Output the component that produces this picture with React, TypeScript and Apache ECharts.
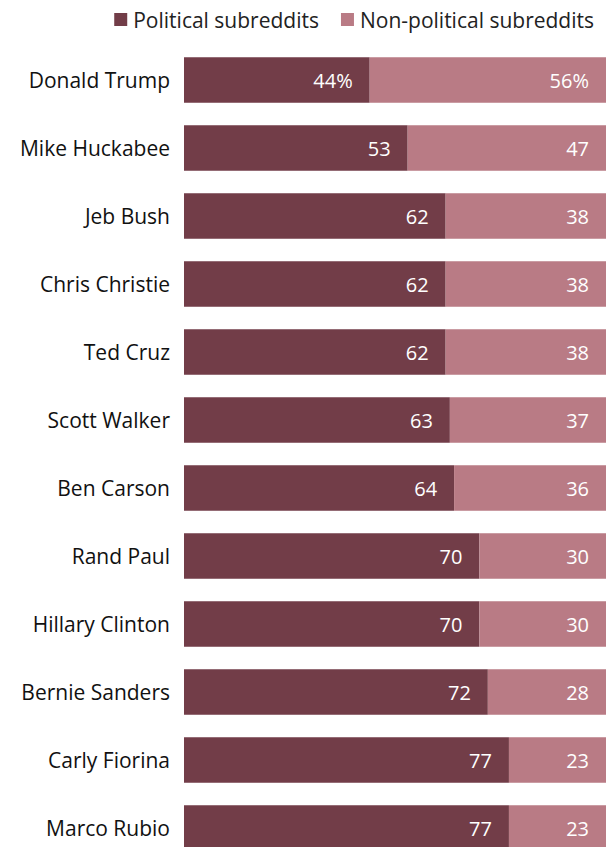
import React, { useEffect, useRef } from "react";
import * as echarts from "echarts";

const categories = [
  "Donald Trump",
  "Mike Huckabee",
  "Jeb Bush",
  "Chris Christie",
  "Ted Cruz",
  "Scott Walker",
  "Ben Carson",
  "Rand Paul",
  "Hillary Clinton",
  "Bernie Sanders",
  "Carly Fiorina",
  "Marco Rubio",
];
const political = [44, 53, 62, 62, 62, 63, 64, 70, 70, 72, 77, 77];
const nonPolitical = [56, 47, 38, 38, 38, 37, 36, 30, 30, 28, 23, 23];
const seriesNames = ["Political subreddits", "Non-political subreddits"];

const FONT = "'Open Sans', Roboto, sans-serif";

export default function App() {
  const ref = useRef<HTMLDivElement>(null);
  useEffect(() => {
    const chart = echarts.init(ref.current!, null, { renderer: "svg" });
    const mk = (name: string, data: number[], color: string) => ({
      name,
      type: "bar",
      stack: "total",
      data,
      barCategoryGap: "33%",
      itemStyle: { color },
      label: {
        show: true,
        position: "insideRight",
        distance: 17,
        color: "#fff",
        fontFamily: FONT,
        fontSize: 20,
        formatter: (p: any) => (p.dataIndex === 0 ? p.value + "%" : String(p.value)),
      },
    });
    chart.setOption({
      animation: false,
      legend: {
        top: 4,
        right: 8,
        itemWidth: 13,
        itemHeight: 13,
        itemGap: 22,
        icon: "rect",
        textStyle: { fontFamily: FONT, fontSize: 21, color: "#222", padding: [0, 0, 0, 1] },
        data: seriesNames,
      },
      grid: { left: 184, right: 1, top: 46, bottom: 8, containLabel: false },
      xAxis: { type: "value", min: 0, max: 100, show: false },
      yAxis: {
        type: "category",
        inverse: true,
        data: categories,
        axisLine: { show: false },
        axisTick: { show: false },
        axisLabel: { fontFamily: FONT, fontSize: 21, color: "#111", margin: 14 },
      },
      series: [
        mk(seriesNames[0], political, "#723d48"),
        mk(seriesNames[1], nonPolitical, "#b97b85"),
      ],
    });
    return () => chart.dispose();
  }, []);
  return (
    <div style={{ position: "absolute", left: 0, top: 0, width: 607, height: 847, overflow: "hidden" }}>
      <div ref={ref} style={{ width: 607, height: 870 }} />
    </div>
  );
}
